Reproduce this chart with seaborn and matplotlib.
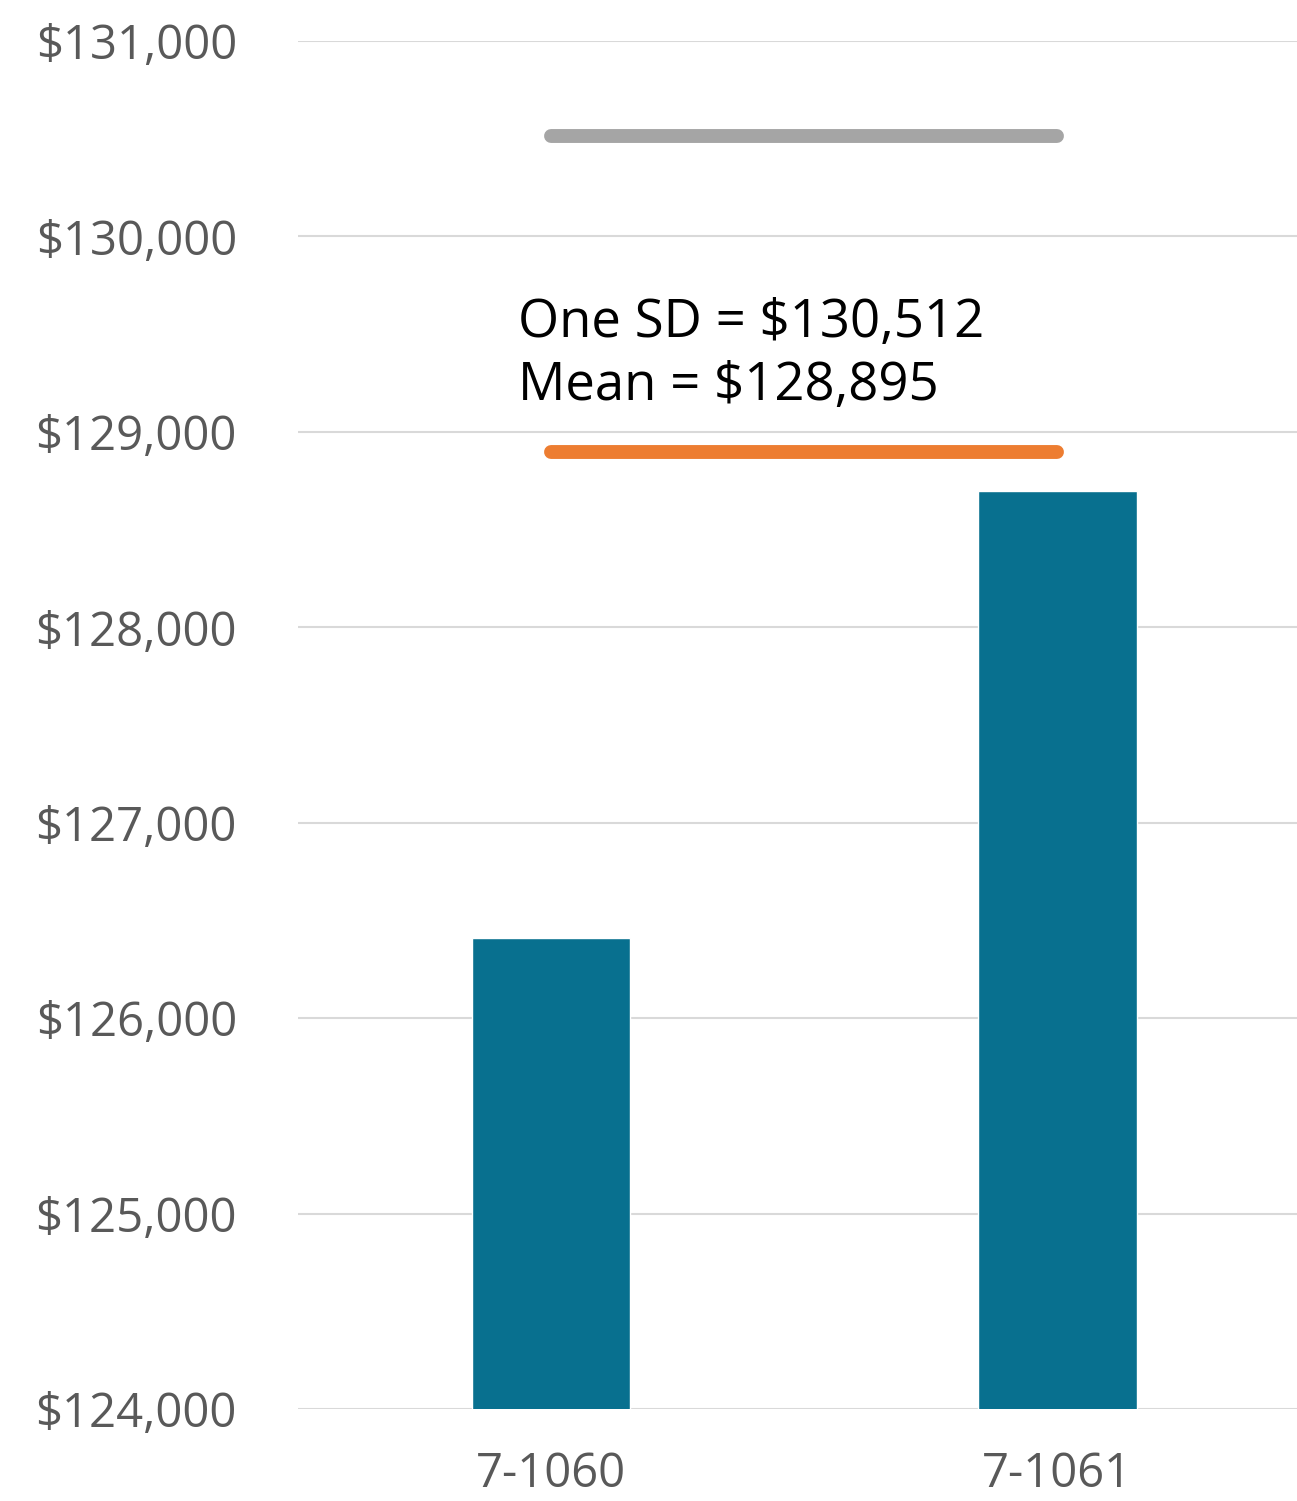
import matplotlib
matplotlib.use("Agg")
import matplotlib.pyplot as plt
import seaborn as sns
import pandas as pd
from matplotlib.ticker import FuncFormatter

categories = ["7-1060", "7-1061"]
values = [126410, 128698]
mean_value = 128895
sd_value = 130512
y_ticks = [124000, 125000, 126000, 127000, 128000, 129000, 130000, 131000]

sns.set_theme(style="white")
plt.rcParams['font.family'] = ['Open Sans', 'DejaVu Sans']

df = pd.DataFrame({"cat": categories, "val": values})

fig = plt.figure(figsize=(12.97, 15.01), dpi=100)
ax = fig.add_axes([298/1297, 1-1409/1501, 1-298/1297, (1409-41)/1501])

sns.barplot(data=df, x="cat", y="val", color="#08708F", saturation=1, width=0.314, ax=ax, zorder=2)

ax.plot([0, 1], [sd_value, sd_value], color="#A5A5A5", lw=10, solid_capstyle="round", zorder=3)
ax.plot([0, 1], [mean_value, mean_value], color="#ED7D31", lw=10, solid_capstyle="round", zorder=3)

ax.text(-0.065, 129485, f"One SD = ${sd_value:,}", fontsize=38, color="black", va="baseline", ha="left")
ax.text(-0.065, 129163, f"Mean = ${mean_value:,}", fontsize=38, color="black", va="baseline", ha="left")

ax.set_ylim(124000, 131000)
ax.set_xlim(-0.5, 1.474)
ax.set_yticks(y_ticks)
ax.yaxis.set_major_formatter(FuncFormatter(lambda v, p: f"${v:,.0f}"))
ax.grid(axis="y", color="#D9D9D9", lw=1.5, zorder=0)
ax.grid(axis="x", visible=False)
for s in ax.spines.values():
    s.set_visible(False)
ax.set_xlabel("")
ax.set_ylabel("")
ax.tick_params(axis="y", length=0, pad=44, labelsize=34, labelcolor="#595959")
ax.tick_params(axis="x", length=0, pad=30, labelsize=34, labelcolor="#595959")

fig.savefig("out.png", dpi=100)
